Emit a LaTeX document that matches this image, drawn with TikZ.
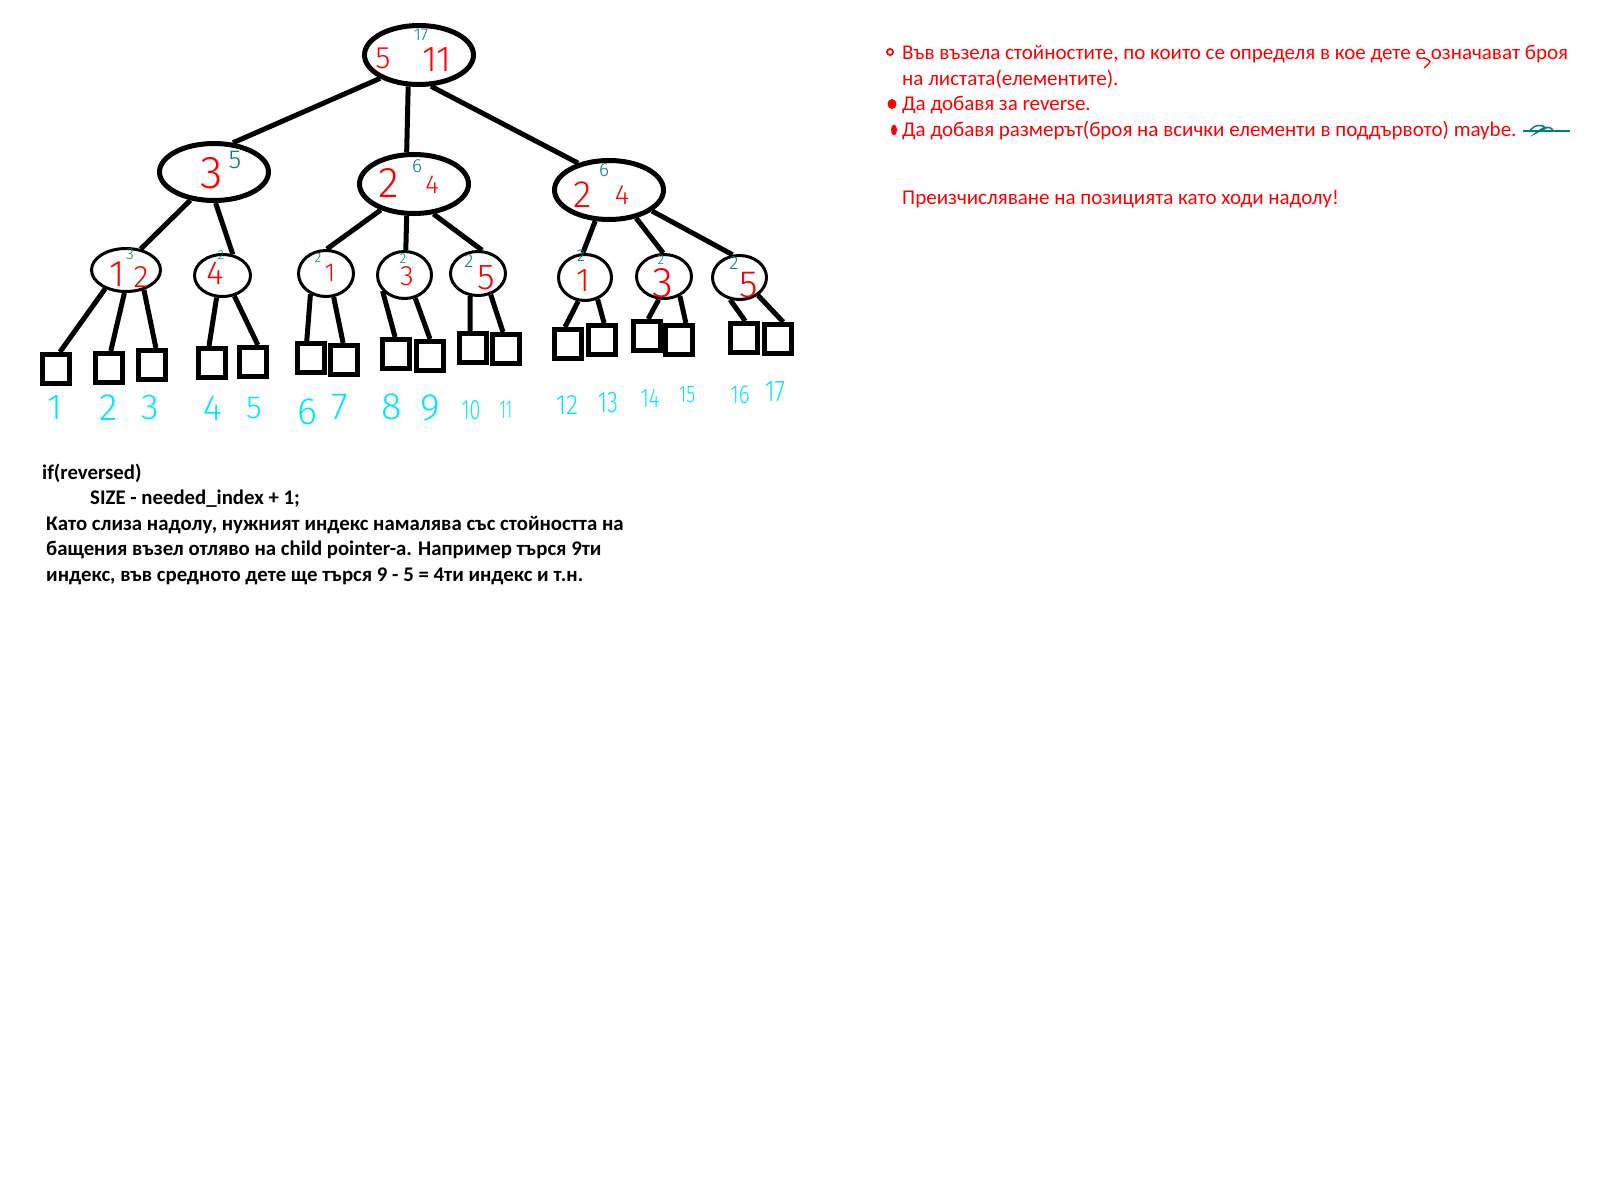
\documentclass[tikz,border=0pt]{standalone}
\usepackage{fontspec}
\setmainfont{Carlito}
\newfontfamily\hand{Fira Sans Light}
\usetikzlibrary{shapes.geometric}
\definecolor{pred}{RGB}{255,0,0}
\definecolor{pteal}{RGB}{0,128,128}
\definecolor{pcyan}{RGB}{0,230,255}
\begin{document}
\begin{tikzpicture}[x=1pt,y=-1pt,
  bignode/.style={ellipse,draw=black,line width=5pt,minimum width=109pt,minimum height=59pt,inner sep=0pt},
  smallnode/.style={ellipse,draw=black,line width=3pt,inner sep=0pt},
  leaf/.style={rectangle,draw=black,line width=5pt,minimum width=27pt,minimum height=29pt,inner sep=0pt},
  edge/.style={line width=5pt},
  hl/.style n args={2}{text=#1,font=\hand\fontsize{#2}{#2}\selectfont,inner sep=0pt},
  rtext/.style={anchor=base west,text=pred,font=\fontsize{21}{26}\selectfont,inner sep=0pt},
  btext/.style={anchor=base west,text=black,font=\bfseries\fontsize{20.8}{26}\selectfont,inner sep=0pt},
  ring/.style={ellipse,draw=pred,line width=1.8pt,inner sep=0pt},
  dot/.style={ellipse,fill=pred,inner sep=0pt}
]
\useasboundingbox (0,0) rectangle (1600,1192);
\fill[white] (0,0) rectangle (1600,1192);

% internal nodes
\node[bignode] (root) at (419,55) {};
\node[bignode,minimum height=57pt] (L) at (214,172) {};
\node[bignode] (M) at (414,184) {};
\node[bignode] (R) at (609,190) {};

\node[smallnode,minimum width=69pt,minimum height=43pt] (A) at (126,270) {};
\node[smallnode,minimum width=56pt,minimum height=42pt] (B) at (222.5,275.5) {};
\node[smallnode,minimum width=55pt,minimum height=46pt] (C) at (326,273.5) {};
\node[smallnode,minimum width=54pt,minimum height=47pt] (D) at (404.5,275) {};
\node[smallnode,minimum width=55pt,minimum height=44pt] (E) at (478,273.5) {};
\node[smallnode,minimum width=53pt,minimum height=46pt] (F) at (585,277.5) {};
\node[smallnode,minimum width=55pt,minimum height=44pt] (G) at (664,276.5) {};
\node[smallnode,minimum width=54pt,minimum height=44pt] (H) at (739.5,277.5) {};

% leaves
\node[leaf] (s1) at (56,369) {};
\node[leaf] (s2) at (109,368) {};
\node[leaf] (s3) at (152,365) {};
\node[leaf] (s4) at (212,363) {};
\node[leaf] (s5) at (253,362) {};
\node[leaf] (s6) at (311,358) {};
\node[leaf] (s7) at (344,360) {};
\node[leaf] (s8) at (396,354) {};
\node[leaf] (s9) at (430,356) {};
\node[leaf] (s10) at (473,348) {};
\node[leaf] (s11) at (506,349) {};
\node[leaf] (s12) at (568,344) {};
\node[leaf] (s13) at (602,340) {};
\node[leaf] (s14) at (647,336) {};
\node[leaf] (s15) at (679,340) {};
\node[leaf] (s16) at (744,338) {};
\node[leaf] (s17) at (778,339) {};

% edges root -> level 2
\draw[edge] (root.211) -- (L.57);
\draw[edge] (root.251) -- (M.103);
\draw[edge] (root.291.5) -- (R.139);
% level 2 -> level 3
\draw[edge] (L.230.5) -- (A.55);
\draw[edge] (L.273) -- (B.64);
\draw[edge] (M.218.5) -- (C.88);
\draw[edge] (M.257.7) -- (D.87);
\draw[edge] (M.303.7) -- (E.80);
\draw[edge] (R.246.4) -- (F.95);
\draw[edge] (R.314) -- (G.92);
\draw[edge] (R.334) -- (H.107);
% level 3 -> leaves
\draw[edge] (A.222) -- (s1.77);
\draw[edge] (A.266) -- (s2.84);
\draw[edge] (A.312) -- (s3.77);
\draw[edge] (B.255.6) -- (s4.100);
\draw[edge] (B.300) -- (s5.74);
\draw[edge] (C.233) -- (s6.104);
\draw[edge] (C.288) -- (s7.93);
\draw[edge] (D.216.6) -- (s8.93);
\draw[edge] (D.295.5) -- (s9.90);
\draw[edge] (E.251) -- (s10.100);
\draw[edge] (E.301) -- (s11.100);
\draw[edge] (F.254) -- (s12.100);
\draw[edge] (F.300) -- (s13.83);
\draw[edge] (G.257) -- (s14.86);
\draw[edge] (G.309) -- (s15.68);
\draw[edge] (H.247) -- (s16.86);
\draw[edge] (H.316) -- (s17.73);

% labels inside nodes
\node[hl={pred}{31}] (r5) at (383,58) {5};
\node[hl={pred}{36}] (r11) at (437,60) {11};
\node[hl={pteal}{17}] (r17) at (421,35) {17};
\node[hl={pred}{46}] (l3) at (212,173) {3};
\node[hl={pteal}{26}] (l5) at (235,160) {5};
\node[hl={pred}{43}] (m2) at (389,183) {2};
\node[hl={pred}{26}] (m4) at (432,185) {4};
\node[hl={pteal}{19}] (m6) at (417,166) {6};
\node[hl={pred}{38}] (q2) at (583,195) {2};
\node[hl={pred}{28}] (q4) at (622,195) {4};
\node[hl={pteal}{19}] (q6) at (604,170) {6};
\node[hl={pred}{37}] (a1) at (117,274) {1};
\node[hl={pred}{31}] (a2) at (141,277) {2};
\node[hl={pteal}{16}] (a3) at (130,254) {3};
\node[hl={pred}{33}] (b4) at (215,273) {4};
\node[hl={pteal}{13}] (b2) at (221,255) {2};
\node[hl={pteal}{14}] (c2) at (318,258) {2};
\node[hl={pred}{26}] (c1) at (330,273) {1};
\node[hl={pteal}{14}] (d2) at (403,259) {2};
\node[hl={pred}{28}] (d3) at (407,276) {3};
\node[hl={pteal}{19}] (e2) at (469,261) {2};
\node[hl={pred}{36}] (e5) at (486,278) {5};
\node[hl={pteal}{17}] (f2) at (581,256) {2};
\node[hl={pred}{33}] (f1) at (583,281) {1};
\node[hl={pteal}{14}] (g2) at (661,260) {2};
\node[hl={pred}{43}] (g3) at (663,283) {3};
\node[hl={pteal}{19}] (h2) at (734,263) {2};
\node[hl={pred}{38}] (h5) at (749,285) {5};

% leaf numbers
\node[hl={pcyan}{36}] (n1) at (55,408) {1};
\node[hl={pcyan}{38}] (n2) at (109,408) {2};
\node[hl={pcyan}{36}] (n3) at (150,408) {3};
\node[hl={pcyan}{36}] (n4) at (213,408) {4};
\node[hl={pcyan}{32}] (n5) at (254,408) {5};
\node[hl={pcyan}{38}] (n6) at (307,412) {6};
\node[hl={pcyan}{38}] (n7) at (340,407) {7};
\node[hl={pcyan}{38}] (n8) at (392,407) {8};
\node[hl={pcyan}{38}] (n9) at (430,408) {9};
\node[hl={pcyan}{28},xscale=0.7] (n10) at (471,410) {10};
\node[hl={pcyan}{26},xscale=0.6] (n11) at (506,410) {11};
\node[hl={pcyan}{28},xscale=0.9] (n12) at (567,405) {12};
\node[hl={pcyan}{30},xscale=0.75] (n13) at (608,403) {13};
\node[hl={pcyan}{27},xscale=0.75] (n14) at (650,398) {14};
\node[hl={pcyan}{24},xscale=0.75] (n15) at (687,395) {15};
\node[hl={pcyan}{26},xscale=0.8] (n16) at (740,395) {16};
\node[hl={pcyan}{30},xscale=0.8] (n17) at (775,392) {17};

% right notes
\node[ring,minimum width=6pt,minimum height=6pt] (bul1) at (890,52) {};
\node[dot,minimum width=9pt,minimum height=10pt] (bul2) at (892,104) {};
\node[dot,minimum width=6pt,minimum height=11pt] (bul3) at (894,130) {};
\node[rtext] (t1) at (902,59.5) {Във възела стойностите, по които се определя в кое дете е означават броя};
\node[rtext] (t2) at (902,85) {на листата(елементите).};
\node[rtext] (t3) at (902,110.5) {Да добавя за reverse.};
\node[rtext] (t4) at (902,136) {Да добавя размерът(броя на всички елементи в поддървото) maybe.};
\node[rtext] (t5) at (902,204.5) {Преизчисляване на позицията като ходи надолу!};
\draw[pred,line width=1.3pt] (1424,58) .. controls (1432,61) .. (1424,68);
\draw[pteal,line width=1.5pt] (1523,131) -- (1570,131);
\draw[pteal,line width=1.5pt] (1529,132) .. controls (1534,124) and (1542,124) .. (1546,128) -- (1536,133) .. controls (1544,126) and (1550,126) .. (1553,130);

% bottom notes
\node[btext] (c1t) at (42,479) {if(reversed)};
\node[btext] (c2t) at (90,504.5) {SIZE - needed\_index + 1;};
\node[btext] (c3t) at (46,530) {Като слиза надолу, нужният индекс намалява със стойността на};
\node[btext] (c4t) at (46,555.5) {бащения възел отляво на child pointer-а. Например търся 9ти};
\node[btext] (c5t) at (46,581) {индекс, във средното дете ще търся 9 - 5 = 4ти индекс и т.н.};
\end{tikzpicture}
\end{document}
